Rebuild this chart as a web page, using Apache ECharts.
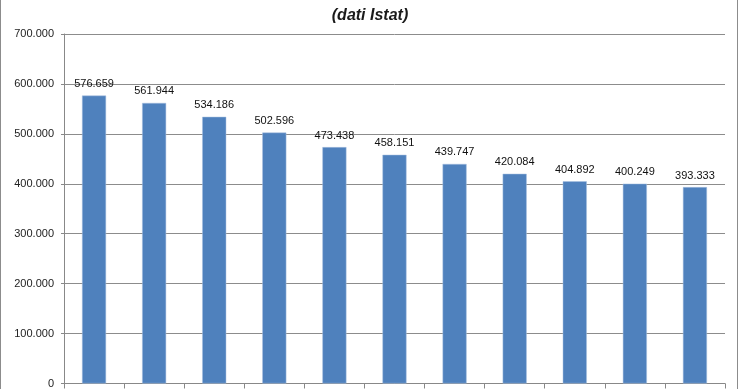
<!DOCTYPE html>
<html><head><meta charset="utf-8">
<script src="https://cdn.jsdelivr.net/npm/echarts@6/dist/echarts.min.js"></script>
<style>html,body{margin:0;padding:0;background:#fff}#c{width:740px;height:389px}</style>
</head><body><div id="c"></div>
<script>
const categories = ['1','2','3','4','5','6','7','8','9','10','11'];
const values = [576659, 561944, 534186, 502596, 473438, 458151, 439747, 420084, 404892, 400249, 393333];
const yTicks = {min: 0, max: 700000, interval: 100000};
const titleText = '(dati Istat)';

function fmt(v){ return String(Math.round(v)).replace(/\B(?=(\d{3})+(?!\d))/g, '.'); }

const chart = echarts.init(document.getElementById('c'), null, {renderer:'canvas'});
chart.setOption({
  animation: false,
  backgroundColor: '#fff',
  textStyle: {fontFamily: 'Liberation Sans, Arial, sans-serif'},
  title: {text: titleText, left: 'center', top: 3,
    textStyle: {fontSize: 16, fontWeight: 'bold', fontStyle: 'italic', color: '#1a1a1a', fontFamily: 'Liberation Sans, Arial, sans-serif'}},
  graphic: [{type: 'rect', shape: {x: 0.5, y: -5, width: 737, height: 400}, style: {fill: 'none', stroke: '#8c8c8c', lineWidth: 1}, silent: true}],
  grid: {left: 64, right: 15, top: 34, bottom: 5, containLabel: false},
  xAxis: {type: 'category', data: categories, boundaryGap: true,
    axisLine: {lineStyle: {color: '#888', width: 1}},
    axisTick: {show: true, length: 5, lineStyle: {color: '#888'}},
    axisLabel: {show: false}},
  yAxis: {type: 'value', min: yTicks.min, max: yTicks.max, interval: yTicks.interval,
    axisLine: {show: true, lineStyle: {color: '#888'}},
    axisTick: {show: true, length: 3, lineStyle: {color: '#888'}},
    axisLabel: {formatter: fmt, fontSize: 11, color: '#222', margin: 10},
    splitLine: {lineStyle: {color: '#8c8c8c', width: 1}}},
  series: [{type: 'bar', data: values, barWidth: '40%',
    itemStyle: {color: '#4F81BD', borderColor: '#a9c1e0', borderWidth: 0.5},
    label: {show: true, position: 'top', distance: 6, fontSize: 11, color: '#111', formatter: p => fmt(p.value)}}]
});
</script></body></html>
